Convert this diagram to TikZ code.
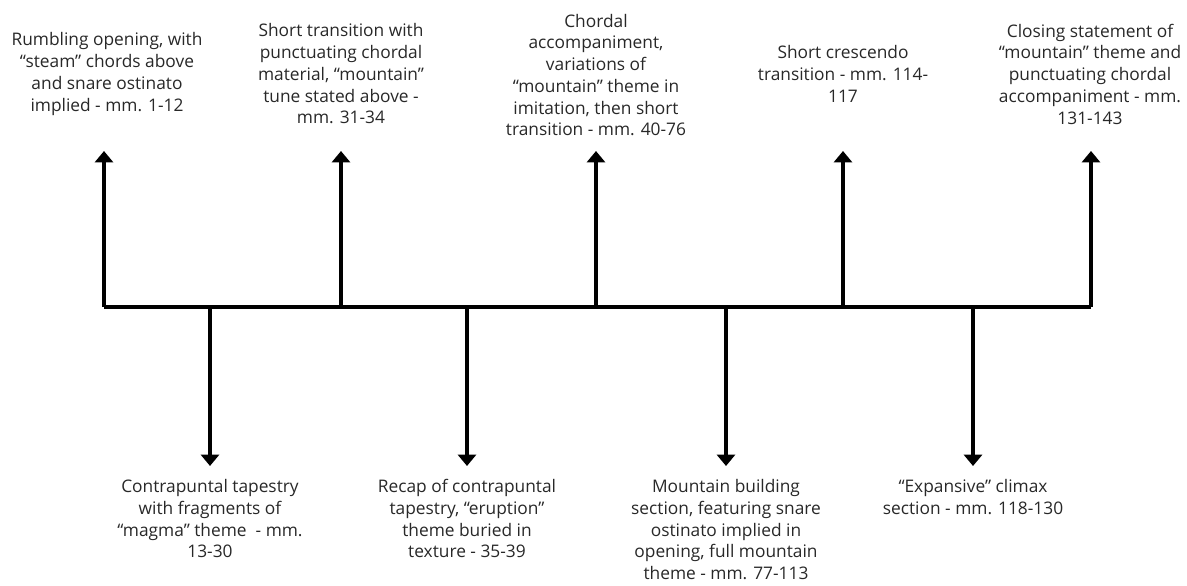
\documentclass[tikz,border=0pt]{standalone}
\usepackage{fontspec}
\setmainfont{Open Sans}
\usetikzlibrary{arrows.meta}

\definecolor{labelgray}{RGB}{40,40,40}

\tikzset{every picture/.style={line width=0.75pt}}
\tikzset{
  axisline/.style={line width=3pt,line join=miter},
  stem/.style={line width=3pt,-{Triangle[width=13.5pt,length=8.5pt]}},
  mmlabel/.style={text=labelgray,align=center,inner sep=0.75pt,font=\fontsize{13}{16.3}\selectfont}
}

\begin{document}
\begin{tikzpicture}[x=0.75pt,y=0.75pt,yscale=-1,xscale=1]
\useasboundingbox (0,0) rectangle (1187,585);

%Points on the axis
\coordinate (a1) at (104,307);
\coordinate (a2) at (210,307);
\coordinate (a3) at (341,307);
\coordinate (a4) at (467,307);
\coordinate (a5) at (596,307);
\coordinate (a6) at (726,307);
\coordinate (a7) at (843,307);
\coordinate (a8) at (973,307);
\coordinate (a9) at (1091,307);

%Arrow ends
\coordinate (t1) at (104,151);
\coordinate (t3) at (341,151);
\coordinate (t5) at (596,151);
\coordinate (t7) at (843,151);
\coordinate (t9) at (1091,151);
\coordinate (t2) at (210,466);
\coordinate (t4) at (467,466);
\coordinate (t6) at (726,466);
\coordinate (t8) at (973,466);

%Straight Lines
\draw [axisline] (a1) -- (a9);
\foreach \n in {1,...,9}
  \draw [stem] (a\n) -- (t\n);

% Text Node
\node [mmlabel] (l1) at (107,74) {Rumbling opening, with\\``steam'' chords above\\and snare ostinato\\implied - mm. 1-12};
% Text Node
\node [mmlabel] (l3) at (341,74) {Short transition with\\punctuating chordal\\material, ``mountain''\\tune stated above -\\mm. 31-34};
% Text Node
\node [mmlabel] (l5) at (596,75) {Chordal\\accompaniment,\\variations of\\``mountain'' theme in\\imitation, then short\\transition - mm. 40-76};
% Text Node
\node [mmlabel] (l7) at (843,74) {Short crescendo\\transition - mm. 114-\\117};
% Text Node
\node [mmlabel] (l9) at (1090,74) {Closing statement of\\``mountain'' theme and\\punctuating chordal\\accompaniment - mm.\\131-143};

% Text Node
\node [mmlabel,anchor=north] (l2) at (210,478) {Contrapuntal tapestry\\with fragments of\\``magma'' theme~ - mm.\\13-30};
% Text Node
\node [mmlabel,anchor=north] (l4) at (467,478) {Recap of contrapuntal\\tapestry, ``eruption''\\theme buried in\\texture - 35-39};
% Text Node
\node [mmlabel,anchor=north] (l6) at (726,478) {Mountain building\\section, featuring snare\\ostinato implied in\\opening, full mountain\\theme - mm. 77-113};
% Text Node
\node [mmlabel,anchor=north] (l8) at (973,478) {``Expansive'' climax\\section - mm. 118-130};

\end{tikzpicture}
\end{document}
